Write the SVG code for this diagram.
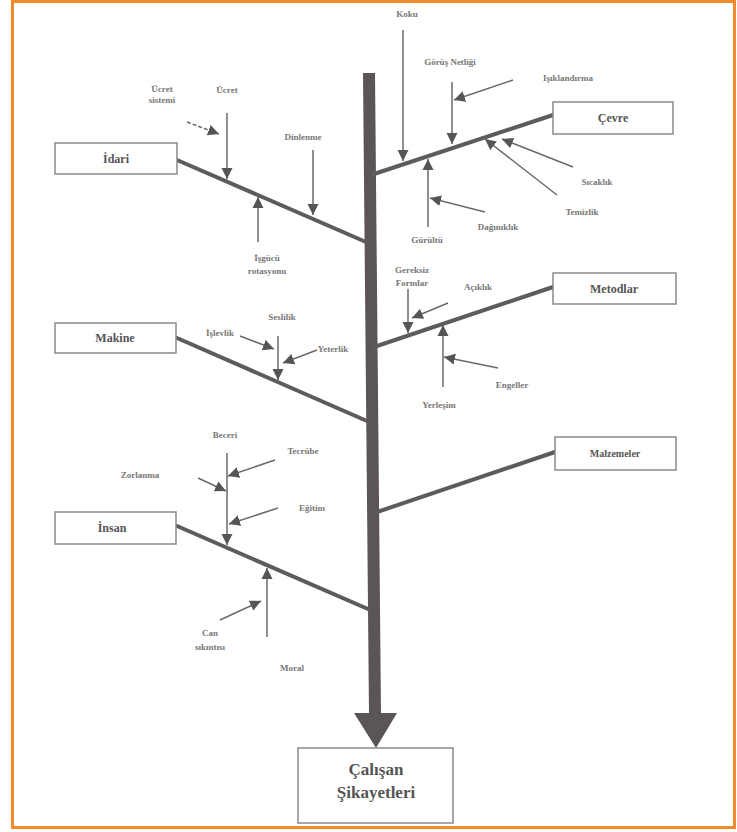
<svg xmlns="http://www.w3.org/2000/svg" width="737" height="832" viewBox="0 0 737 832">
<style>
.box{fill:#fff;stroke:#8a8a8a;stroke-width:1.5}
.bl{font-family:"Liberation Serif",serif;font-size:12px;font-weight:bold;fill:#555;text-anchor:middle}
.lb{font-family:"Liberation Serif",serif;font-size:9px;font-weight:bold;fill:#777;text-anchor:middle}
.br{stroke:#5e5a5d;stroke-width:4;stroke-linecap:round;fill:none}
.ar{stroke:#6a6a6a;stroke-width:1.5;fill:none;marker-end:url(#ah)}
.ln{stroke:#6a6a6a;stroke-width:1.5;fill:none}
</style>
<defs>
<marker id="ah" markerUnits="userSpaceOnUse" markerWidth="12" markerHeight="12" refX="11" refY="5.5" orient="auto" viewBox="0 0 12 11">
<path d="M0,0 L11,5.5 L0,11 z" fill="#555"/>
</marker>
</defs>
<rect x="0" y="0" width="737" height="832" fill="#fff"/>
<rect x="12.5" y="1.5" width="722" height="826" fill="none" stroke="#f08a2a" stroke-width="3"/>

<g id="connectors">
<line x1="369" y1="73" x2="375" y2="714" stroke="#5b5459" stroke-width="12"/>
<polygon points="354,713 397,713 376,748" fill="#5b5459"/>
<line class="br" x1="177" y1="160" x2="366" y2="242"/>
<line class="br" x1="374" y1="174" x2="553" y2="115"/>
<line class="br" x1="177" y1="338" x2="367" y2="421"/>
<line class="br" x1="374" y1="347" x2="553" y2="287"/>
<line class="br" x1="377" y1="512" x2="555" y2="452"/>
<line class="br" x1="177" y1="526" x2="368" y2="609"/>

<line class="ar" x1="187" y1="122" x2="219" y2="134" stroke-dasharray="4,2"/>
<line class="ar" x1="227" y1="113" x2="227" y2="179"/>
<line class="ar" x1="313" y1="150" x2="313" y2="215"/>
<line class="ar" x1="258" y1="242" x2="258" y2="197"/>

<line class="ar" x1="403" y1="30" x2="403" y2="161"/>
<line class="ar" x1="452" y1="82" x2="452" y2="144"/>
<line class="ar" x1="513" y1="80" x2="454" y2="100"/>
<line class="ar" x1="573" y1="167" x2="502" y2="139"/>
<line class="ar" x1="557" y1="195" x2="485" y2="139"/>
<line class="ar" x1="485" y1="212" x2="430" y2="198"/>
<line class="ar" x1="428" y1="227" x2="428" y2="159"/>

<line class="ar" x1="278" y1="336" x2="278" y2="380"/>
<line class="ar" x1="240" y1="336" x2="274" y2="349"/>
<line class="ar" x1="317" y1="350" x2="283" y2="363"/>

<line class="ar" x1="408" y1="289" x2="408" y2="333"/>
<line class="ar" x1="448" y1="303" x2="412" y2="318"/>
<line class="ar" x1="498" y1="368" x2="444" y2="357"/>
<line class="ar" x1="443" y1="387" x2="443" y2="325"/>

<line class="ar" x1="227" y1="453" x2="227" y2="545"/>
<line class="ar" x1="275" y1="460" x2="228" y2="476"/>
<line class="ar" x1="198" y1="478" x2="226" y2="491"/>
<line class="ar" x1="278" y1="508" x2="229" y2="524"/>
<line class="ar" x1="220" y1="620" x2="261" y2="601"/>
<line class="ar" x1="267" y1="637" x2="267" y2="568"/>
</g>

<g id="idari"><rect class="box" x="55" y="143" width="122" height="31"/><text class="bl" x="116" y="163">İdari</text></g>
<g id="cevre"><rect class="box" x="553" y="102" width="120" height="32"/><text class="bl" x="613" y="122">Çevre</text></g>
<g id="makine"><rect class="box" x="55" y="323" width="121" height="30"/><text class="bl" x="115" y="342">Makine</text></g>
<g id="metodlar"><rect class="box" x="553" y="273" width="123" height="31"/><text class="bl" x="614" y="293">Metodlar</text></g>
<g id="malzemeler"><rect class="box" x="555" y="437" width="121" height="33"/><text class="bl" x="615" y="457" style="font-size:10px">Malzemeler</text></g>
<g id="insan"><rect class="box" x="55" y="512" width="121" height="32"/><text class="bl" x="112" y="532">İnsan</text></g>
<g id="sonuc"><rect class="box" x="298" y="748" width="155" height="75"/><text class="bl" x="376" y="775" style="font-size:17px">Çalışan</text><text class="bl" x="376" y="798" style="font-size:17px">Şikayetleri</text></g>

<g id="labels">
<text class="lb" x="162" y="92">Ücret</text><text class="lb" x="162" y="103">sistemi</text>
<text class="lb" x="227" y="93">Ücret</text>
<text class="lb" x="303" y="140">Dinlenme</text>
<text class="lb" x="267" y="261">İşgücü</text><text class="lb" x="267" y="274">rotasyonu</text>

<text class="lb" x="407" y="17">Koku</text>
<text class="lb" x="450" y="65">Görüş Netliği</text>
<text class="lb" x="568" y="81">Işıklandırma</text>
<text class="lb" x="597" y="185">Sıcaklık</text>
<text class="lb" x="582" y="215">Temizlik</text>
<text class="lb" x="498" y="230">Dağınıklık</text>
<text class="lb" x="427" y="243">Gürültü</text>

<text class="lb" x="282" y="320">Seslilik</text>
<text class="lb" x="220" y="336">İşlevlik</text>
<text class="lb" x="333" y="352">Yeterlik</text>

<text class="lb" x="412" y="273">Gereksiz</text><text class="lb" x="412" y="286">Formlar</text>
<text class="lb" x="478" y="290">Açıklık</text>
<text class="lb" x="512" y="388">Engeller</text>
<text class="lb" x="439" y="408">Yerleşim</text>

<text class="lb" x="225" y="438">Beceri</text>
<text class="lb" x="303" y="454">Tecrübe</text>
<text class="lb" x="140" y="478">Zorlanma</text>
<text class="lb" x="312" y="511">Eğitim</text>
<text class="lb" x="210" y="636">Can</text><text class="lb" x="210" y="650">sıkıntısı</text>
<text class="lb" x="292" y="671">Moral</text>
</g>
</svg>
